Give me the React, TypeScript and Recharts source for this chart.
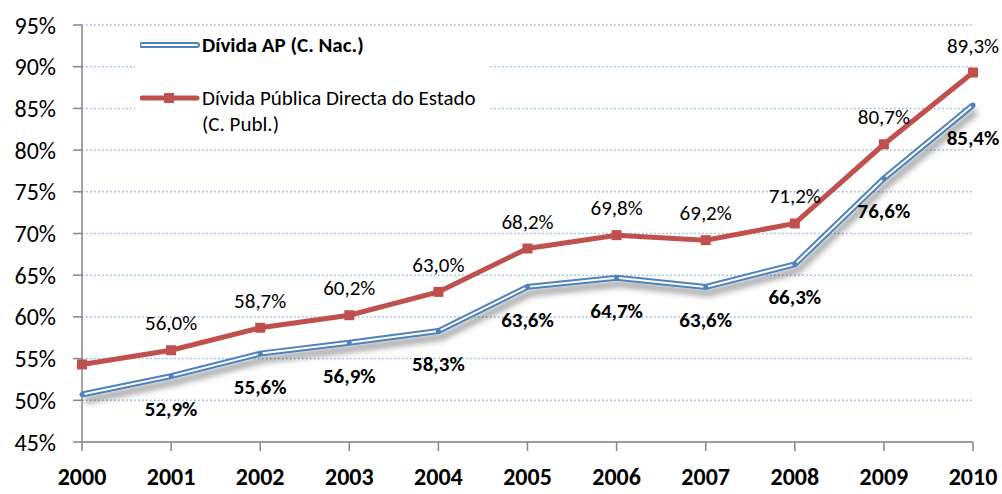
import { LineChart, Line, XAxis, YAxis, CartesianGrid, LabelList, Legend } from "recharts"

const years = ["2000", "2001", "2002", "2003", "2004", "2005", "2006", "2007", "2008", "2009", "2010"]
const dividaAP = [50.7, 52.9, 55.6, 56.9, 58.3, 63.6, 64.7, 63.6, 66.3, 76.6, 85.4]
const dividaEstado = [54.3, 56.0, 58.7, 60.2, 63.0, 68.2, 69.8, 69.2, 71.2, 80.7, 89.3]
const yTicks = [45, 50, 55, 60, 65, 70, 75, 80, 85, 90, 95]

const BLUE = "#4F81BD"
const RED = "#C0504D"
const FONT = "Carlito, Lato, 'Open Sans', sans-serif"

const data = years.map((year, i) => ({
  year,
  ap: dividaAP[i],
  estado: dividaEstado[i],
  apLabel: i === 0 ? null : dividaAP[i],
  estadoLabel: i === 0 ? null : dividaEstado[i],
}))

const fmt = (v: number) => v.toFixed(1).replace(".", ",") + "%"

const RedLabel = (p: any) => {
  if (p.value == null) return null
  return (
    <text x={p.x} y={p.y - 20} textAnchor="middle" fontSize={21} fontFamily={FONT} fill="#000">
      {fmt(p.value)}
    </text>
  )
}

const BlueLabel = (p: any) => {
  if (p.value == null) return null
  return (
    <text x={p.x} y={p.y + 40} textAnchor="middle" fontSize={21} fontWeight="bold" fontFamily={FONT} fill="#000">
      {fmt(p.value)}
    </text>
  )
}

const SquareDot = (p: any) => (
  <rect key={p.index} x={p.cx - 5} y={p.cy - 5} width={10} height={10} fill={RED} />
)

const XTick = (p: any) => (
  <text x={p.x} y={p.y + 32} textAnchor="middle" fontSize={24} fontWeight="bold" fontFamily={FONT} fill="#000">
    {p.payload.value}
  </text>
)

const LegendBox = () => (
  <div style={{ position: "relative", width: 353, height: 108, background: "#fff", fontFamily: FONT, color: "#000" }}>
    <svg width={60} height={108} style={{ position: "absolute", left: 5, top: 0 }}>
      <line x1={2} y1={15} x2={57} y2={15} stroke={BLUE} strokeWidth={6} strokeLinecap="round" />
      <line x1={2} y1={15} x2={57} y2={15} stroke="#fff" strokeWidth={2} strokeLinecap="round" />
      <line x1={2} y1={68} x2={57} y2={68} stroke={RED} strokeWidth={5} strokeLinecap="round" />
      <rect x={24} y={63} width={10} height={10} fill={RED} />
    </svg>
    <div style={{ position: "absolute", left: 67, top: 2, fontSize: 21, fontWeight: "bold", lineHeight: "26px" }}>
      Dívida AP (C. Nac.)
    </div>
    <div style={{ position: "absolute", left: 67, top: 55, fontSize: 21, lineHeight: "26px" }}>
      Dívida Pública Directa do Estado
      <br />
      (C. Publ.)
    </div>
  </div>
)

function App() {
  return (
    <div style={{ position: "absolute", left: 0, top: 0 }}>
      <LineChart width={1002} height={494} data={data} margin={{ top: 25, right: 29, left: 0, bottom: 0 }}>
        <defs>
          <filter id="blueShadow" x="-10%" y="-20%" width="120%" height="160%">
            <feDropShadow dx={3} dy={6} stdDeviation={3} floodColor="#000" floodOpacity={0.4} />
          </filter>
        </defs>
        <CartesianGrid vertical={false} stroke="#8DB3E2" strokeDasharray="1.5 2.5" strokeWidth={1.5} />
        <XAxis
          dataKey="year"
          height={52}
          stroke="#868686"
          strokeWidth={1.5}
          tickSize={9}
          tick={<XTick />}
          interval={0}
        />
        <YAxis
          width={82}
          domain={[45, 95]}
          ticks={yTicks}
          stroke="#868686"
          strokeWidth={1.5}
          tickSize={9}
          tickMargin={17}
          tickFormatter={(v: number) => v + "%"}
          tick={{ fontSize: 24, fill: "#000", fontFamily: FONT }}
          allowDataOverflow
        />
        <Legend
          layout="horizontal"
          verticalAlign="middle"
          content={<LegendBox />}
          wrapperStyle={{ position: "absolute", left: 135, top: 30, width: 353, height: 108 }}
        />
        <Line
          dataKey="ap"
          stroke={BLUE}
          strokeWidth={6}
          dot={false}
          filter="url(#blueShadow)"
          isAnimationActive={false}
          legendType="none"
        />
        <Line
          dataKey="ap"
          stroke="#fff"
          strokeWidth={2}
          dot={{ r: 2.5, fill: BLUE, stroke: "none" }}
          isAnimationActive={false}
          legendType="none"
        >
          <LabelList dataKey="apLabel" content={<BlueLabel />} />
        </Line>
        <Line
          dataKey="estado"
          stroke={RED}
          strokeWidth={5}
          dot={<SquareDot />}
          isAnimationActive={false}
          legendType="none"
        >
          <LabelList dataKey="estadoLabel" content={<RedLabel />} />
        </Line>
      </LineChart>
    </div>
  )
}

export default App
